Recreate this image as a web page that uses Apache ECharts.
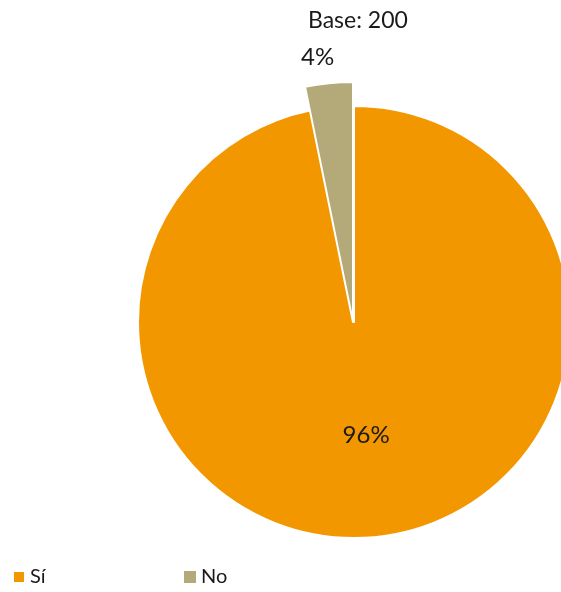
<!DOCTYPE html>
<html>
<head>
    <meta charset="utf-8">
    <script src="https://cdn.jsdelivr.net/npm/echarts@6/dist/echarts.min.js"></script>
</head>
<body style="margin: 0">
<div id="container" style="height: 592px; width: 561px;"></div>
<script>

var categories = ['Sí', 'No'];
var values = [96.8, 3.2];          // slice sizes
var labels = ['96%', '4%'];        // printed percentages
var colors = ['#F39700', '#B4A978'];
var baseText = 'Base: 200';

var dom = document.getElementById('container');
var myChart = echarts.init(dom);

var font = 'Lato, "Open Sans", sans-serif';

// big pie: only Sí visible
var mainData = categories.map(function (name, i) {
    return {
        name: name,
        value: values[i],
        itemStyle: i === 0 ? { color: colors[0] } : { color: 'rgba(0,0,0,0)', borderWidth: 0 },
        label: i === 0 ? { show: true, formatter: labels[0], offset: [1, 3] } : { show: false }
    };
});

// outer pie: only No visible, drawn a bit larger
var noData = categories.map(function (name, i) {
    return {
        name: name,
        value: values[i],
        itemStyle: i === 1 ? { color: colors[1] } : { color: 'rgba(0,0,0,0)', borderWidth: 0 },
        label: i === 1 ? { show: true, formatter: labels[1], offset: [-23, -142] } : { show: false }
    };
});

function legendFor(i, left) {
    return {
        data: [{ name: categories[i], itemStyle: { color: colors[i] } }],
        left: left,
        top: 567,
        padding: 0,
        icon: 'rect',
        itemWidth: 12,
        itemHeight: 12,
        textStyle: { fontFamily: font, fontSize: 20, color: '#1a1a1a' }
    };
}

var option = {
    animation: false,
    color: colors,
    title: {
        text: baseText,
        left: 303,
        top: 4,
        textStyle: { fontFamily: font, fontSize: 23, fontWeight: 'normal', color: '#1a1a1a' }
    },
    legend: [legendFor(0, 12), legendFor(1, 184)],
    series: [
        {
            name: 'main',
            type: 'pie',
            center: [354, 322],
            radius: [0, 216],
            startAngle: 90,
            clockwise: true,
            silent: true,
            labelLine: { show: false },
            label: { position: 'inside', fontFamily: font, fontSize: 24, color: '#1a1a1a' },
            itemStyle: { borderColor: '#fff', borderWidth: 2 },
            data: mainData
        },
        {
            name: 'no',
            type: 'pie',
            center: [353, 322],
            radius: [0, 240],
            startAngle: 90,
            clockwise: true,
            silent: true,
            labelLine: { show: false },
            label: { position: 'inside', fontFamily: font, fontSize: 24, color: '#1a1a1a' },
            itemStyle: { borderColor: '#fff', borderWidth: 2 },
            data: noData
        }
    ]
};

myChart.setOption(option);

</script>
</body>
</html>
